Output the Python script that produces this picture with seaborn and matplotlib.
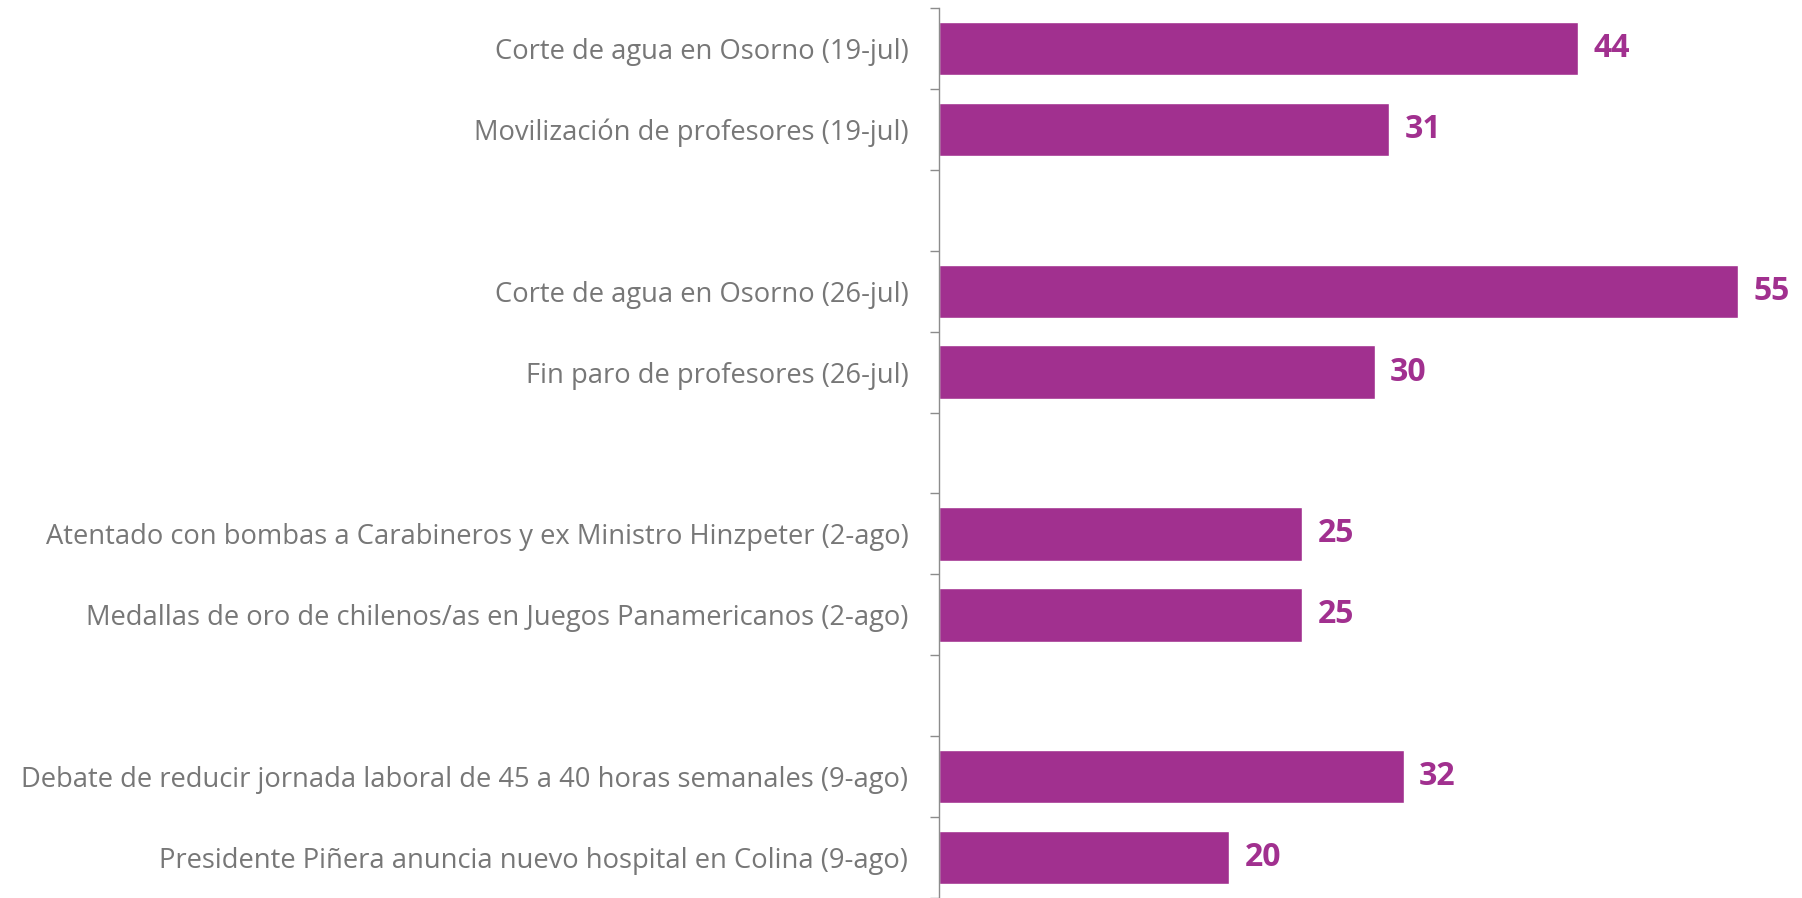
import numpy as np
import pandas as pd
import matplotlib
matplotlib.use("Agg")
import matplotlib.pyplot as plt
import seaborn as sns

# datos
etiquetas = [
    "Corte de agua en Osorno (19-jul)",
    "Movilización de profesores (19-jul)",
    "Corte de agua en Osorno (26-jul)",
    "Fin paro de profesores (26-jul)",
    "Atentado con bombas a Carabineros y ex Ministro Hinzpeter (2-ago)",
    "Medallas de oro de chilenos/as en Juegos Panamericanos (2-ago)",
    "Debate de reducir jornada laboral de 45 a 40 horas semanales (9-ago)",
    "Presidente Piñera anuncia nuevo hospital en Colina (9-ago)",
]
valores = [44, 31, 55, 30, 25, 25, 32, 20]
grupo_tam = 2  # barras por grupo, con un espacio vacío entre grupos

morado = "#A1308F"
gris = "#777777"

sns.set_style("white")
plt.rcParams["font.family"] = ["Open Sans", "DejaVu Sans"]

# orden con huecos entre grupos
orden = []
filas = []
for i, (e, v) in enumerate(zip(etiquetas, valores)):
    orden.append(e)
    filas.append({"evento": e, "valor": v})
    if i % grupo_tam == grupo_tam - 1 and i < len(etiquetas) - 1:
        hueco = " " * (i // grupo_tam + 1)
        orden.append(hueco)
df = pd.DataFrame(filas)

fig = plt.figure(figsize=(18.02, 8.98), dpi=100)
ax = fig.add_axes([0.521, 0.0, 0.479, 0.991])

sns.barplot(data=df, y="evento", x="valor", order=orden, color=morado,
            saturation=1, width=0.66, ax=ax, orient="h")

n = len(orden)
ax.set_ylim(n - 0.5, -0.5)
ax.set_xlim(0, 59.4)

# etiquetas en el centro (menor), marcas en los bordes (mayor)
ax.set_yticks(np.arange(n), minor=True)
ax.set_yticklabels([o if o.strip() else "" for o in orden], minor=True)
ax.set_yticks(np.arange(n + 1) - 0.5)
ax.set_yticklabels([])
ax.tick_params(axis="y", which="minor", length=0, pad=22, labelsize=19.7, labelcolor=gris)
ax.tick_params(axis="y", which="major", length=6.5, width=1, color="#8c8c8c", left=True)
ax.set_xticks([])
ax.set_xlabel("")
ax.set_ylabel("")

for s in ["top", "right", "bottom"]:
    ax.spines[s].set_visible(False)
ax.spines["left"].set_color("#8c8c8c")
ax.spines["left"].set_linewidth(1)

for c in ax.containers:
    ax.bar_label(c, fmt="%d", padding=11, fontsize=23, fontweight="bold", color=morado)

fig.savefig("out.png", dpi=100)
